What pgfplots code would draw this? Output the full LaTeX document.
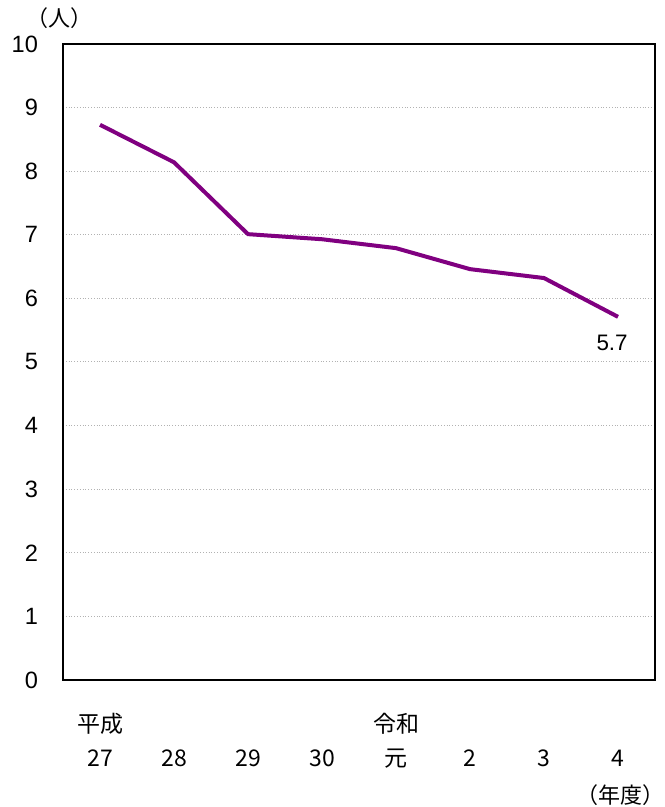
\documentclass[border=0pt]{standalone}
\usepackage{pgfplots}
\pgfplotsset{compat=1.18}
\usepackage{fontspec}
\setmainfont{Liberation Sans}
\newfontfamily\jp{Noto Sans CJK JP}
\definecolor{linepurple}{RGB}{128,0,128}
\newcommand{\blank}{\vphantom{平成}}

\begin{document}
\begin{tikzpicture}
\useasboundingbox (-31.5pt,-63.5pt) rectangle (300.5pt,340pt);
\begin{axis}[
    scale only axis,
    width=296pt, height=318pt,
    xmin=-0.5, xmax=7.5,
    ymin=0, ymax=10,
    xtick={0,...,7},
    xticklabels={{平成\\27},{\blank\\28},{\blank\\29},{\blank\\30},{令和\\元},{\blank\\2},{\blank\\3},{\blank\\4}},
    ytick={0,...,10},
    major tick length=0pt,
    ymajorgrids,
    grid style={densely dotted, gray!60, line width=0.5pt},
    axis line style={line width=1pt},
    xticklabel style={align=center, anchor=north, yshift=-13pt,
        font=\jp\fontsize{11.5}{17}\selectfont},
    yticklabel style={xshift=-9pt, font=\fontsize{11.8}{13}\selectfont},
    /pgf/number format/assume math mode=true,
]
\addplot[linepurple, line width=2pt, mark=none] coordinates {
(0,8.73) (1,8.14) (2,7.01) (3,6.93) (4,6.79) (5,6.46) (6,6.32) (7,5.71)
};
\node[font=\fontsize{11.2}{13}\selectfont] at (axis cs:6.92,5.30) {5.7};
\end{axis}
\node[font=\jp\fontsize{11}{13}\selectfont] at (-1.5pt,331pt) {（人）};
\node[font=\jp\fontsize{11}{13}\selectfont] at (278.5pt,-57.5pt) {（年度）};
\end{tikzpicture}
\end{document}
